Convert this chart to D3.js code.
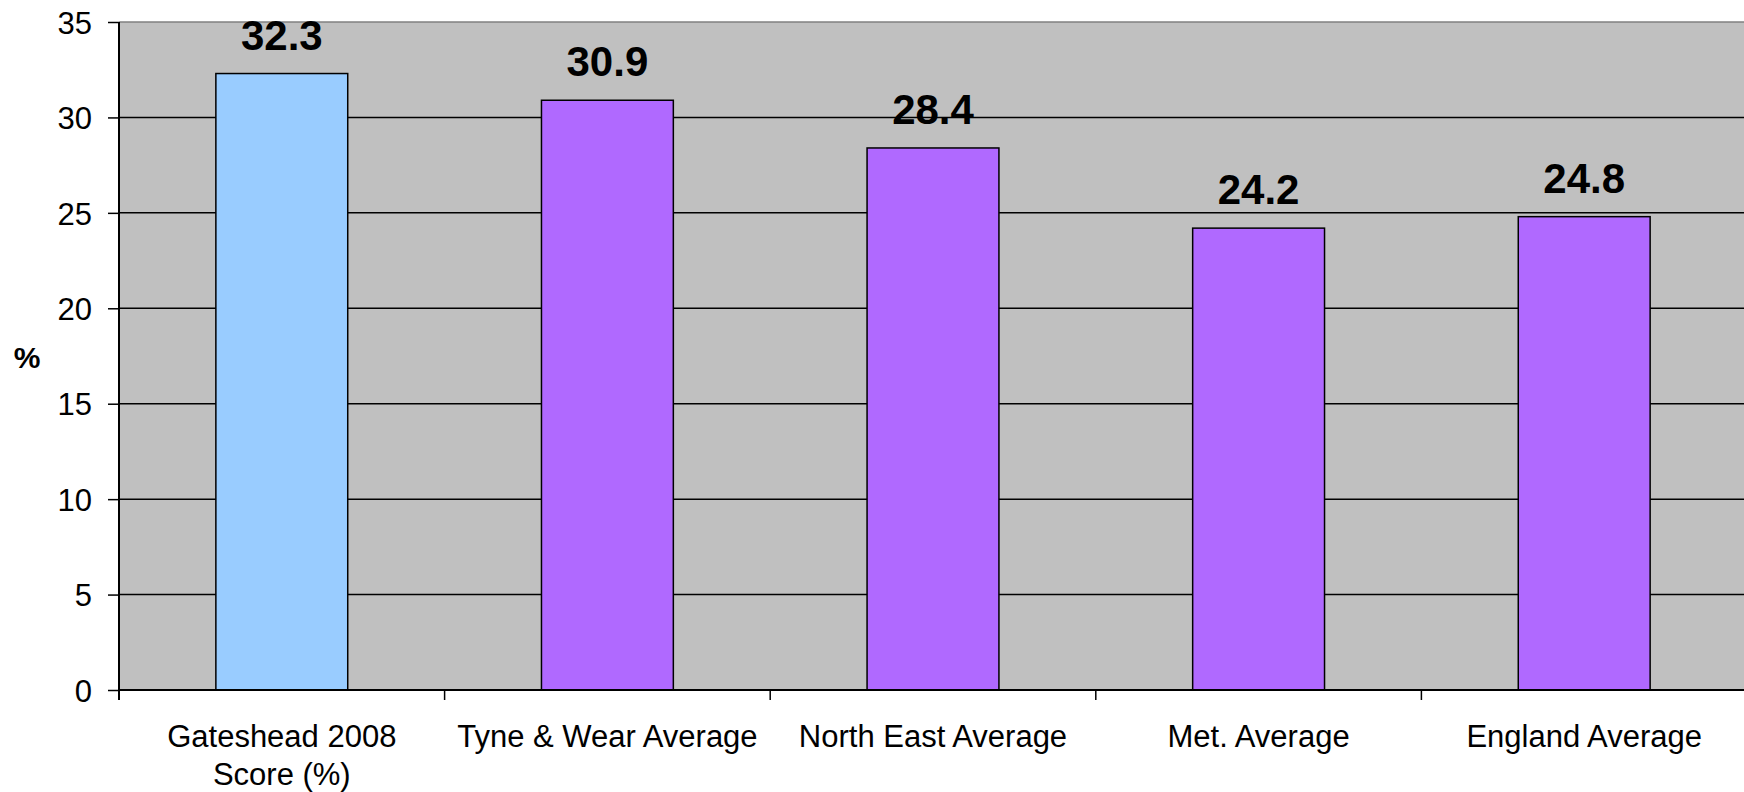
<!DOCTYPE html>
<html>
<head>
<meta charset="utf-8">
<script src="https://cdn.jsdelivr.net/npm/d3@7"></script>
<style>
  html, body { margin: 0; padding: 0; background: #fff; }
  svg { display: block; font-family: "Liberation Sans", Arial, sans-serif; }
</style>
</head>
<body>
<svg id="chart" width="1744" height="792"></svg>
<script>
const categories = [["Gateshead 2008", "Score (%)"], ["Tyne & Wear Average"], ["North East Average"], ["Met. Average"], ["England Average"]];
const values = [32.3, 30.9, 28.4, 24.2, 24.8];
const barColors = ["#99CCFF", "#B069FF", "#B069FF", "#B069FF", "#B069FF"];
const yTicks = [0, 5, 10, 15, 20, 25, 30, 35];
const yLabel = "%";

(function () {
const svg = d3.select("#chart");
const mLeft = 119, mTop = 22, mBottom = 690, mRight = 1747;

const x = d3.scaleBand().domain(d3.range(values.length)).range([mLeft, mRight]).paddingInner(0).paddingOuter(0);
const y = d3.scaleLinear().domain([0, 35]).range([mBottom, mTop]);

// plot background
svg.append("rect").attr("x", mLeft).attr("y", mTop).attr("width", mRight - mLeft).attr("height", mBottom - mTop).attr("fill", "#C0C0C0");

// gridlines
svg.append("g").selectAll("line").data(yTicks.filter(d => d > 0)).join("line")
  .attr("x1", mLeft).attr("x2", mRight)
  .attr("y1", d => y(d)).attr("y2", d => y(d))
  .attr("stroke", d => d === 35 ? "#808080" : "#000").attr("stroke-width", 1.5);

// bars
const bw = x.bandwidth() * 0.405;
svg.append("g").selectAll("rect").data(values).join("rect")
  .attr("x", (d, i) => x(i) + (x.bandwidth() - bw) / 2)
  .attr("y", d => y(d))
  .attr("width", bw)
  .attr("height", d => mBottom - y(d))
  .attr("fill", (d, i) => barColors[i])
  .attr("stroke", "#000").attr("stroke-width", 1.5);

// value labels
svg.append("g").selectAll("text").data(values).join("text")
  .attr("x", (d, i) => x(i) + x.bandwidth() / 2)
  .attr("y", d => y(d) - 24)
  .attr("text-anchor", "middle")
  .attr("font-size", 42).attr("font-weight", "bold").attr("fill", "#000")
  .text(d => d.toFixed(1));

// y axis
const yAxis = d3.axisLeft(y).tickValues(yTicks).tickSize(11).tickPadding(16).tickFormat(d3.format("d"));
const gy = svg.append("g").attr("transform", `translate(${mLeft},0)`).call(yAxis);
gy.select(".domain").attr("stroke", "#000").attr("stroke-width", 2).attr("d", `M0,${mTop}V${mBottom + 10}`);
gy.selectAll(".tick line").attr("stroke", "#000").attr("stroke-width", 1.5);
gy.selectAll(".tick text").attr("font-size", 31).attr("fill", "#000").attr("font-family", "Liberation Sans, Arial, sans-serif").attr("dy", "0.36em");

// x axis baseline + ticks at band boundaries
svg.append("line").attr("x1", mLeft).attr("x2", mRight).attr("y1", mBottom).attr("y2", mBottom).attr("stroke", "#000").attr("stroke-width", 2);
svg.append("g").selectAll("line").data(d3.range(values.length + 1)).join("line")
  .attr("x1", i => mLeft + i * x.step()).attr("x2", i => mLeft + i * x.step())
  .attr("y1", mBottom).attr("y2", mBottom + 10)
  .attr("stroke", "#000").attr("stroke-width", 1.5);

// category labels
const cl = svg.append("g").selectAll("text").data(categories).join("text")
  .attr("x", (d, i) => x(i) + x.bandwidth() / 2)
  .attr("y", 747)
  .attr("text-anchor", "middle")
  .attr("font-size", 31).attr("fill", "#000");
cl.selectAll("tspan").data(d => d).join("tspan")
  .attr("x", function () { return d3.select(this.parentNode).attr("x"); })
  .attr("dy", (d, j) => j === 0 ? 0 : 38)
  .text(d => d);

// y label
svg.append("text").attr("x", 27).attr("y", 368).attr("text-anchor", "middle")
  .attr("font-size", 30).attr("font-weight", "bold").attr("fill", "#000").text(yLabel);
})();
</script>
</body>
</html>
